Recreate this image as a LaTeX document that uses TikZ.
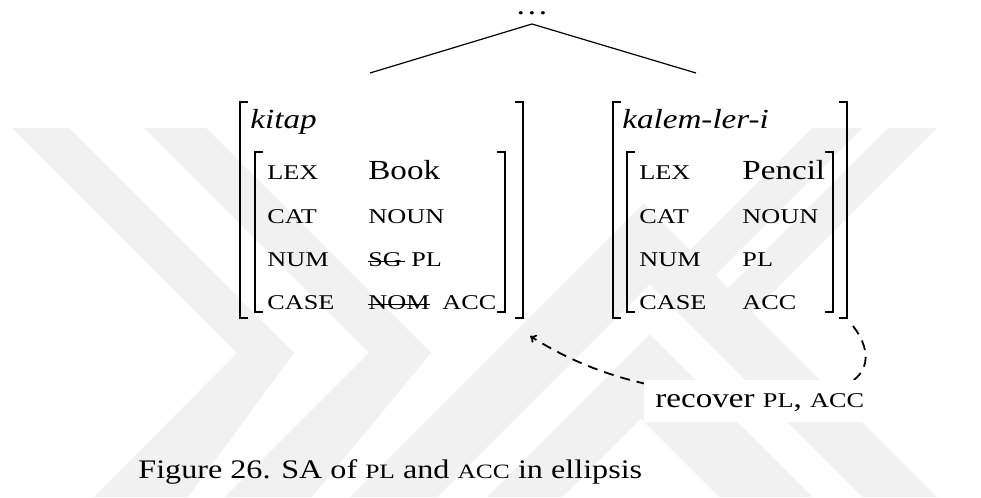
\documentclass[tikz,border=0pt]{standalone}
\usepackage{fontspec}
\setmainfont{Liberation Serif}[FakeStretch=1.2]
\newfontfamily\capsfont{Liberation Serif}[FakeStretch=1.25]
\usetikzlibrary{arrows.meta, positioning, calc}
\definecolor{wmark}{RGB}{241,241,241}
\newcommand{\feat}[1]{{\capsfont\fontsize{10.5pt}{12pt}\selectfont #1}}
\newcommand{\capfeat}[1]{{\capsfont\fontsize{10.2pt}{12pt}\selectfont #1}}
\tikzset{
  lbl/.style    = {anchor=base west, inner sep=0pt, font=\fontsize{13.8pt}{16pt}\selectfont},
  attr/.style   = {lbl, font=\capsfont\fontsize{10.5pt}{12pt}\selectfont},
  brk/.style    = {line width=1.2pt},
  branch/.style = {line width=0.6pt},
  strike/.style = {line width=0.6pt},
  recov/.style  = {line width=0.9pt, dash pattern=on 5pt off 3.5pt,
                   -{To[length=3pt,width=4.5pt]}},
  wm/.style     = {fill=wmark, draw=none},
}

\begin{document}
\begin{tikzpicture}[x=0.5pt, y=-0.5pt]
  \useasboundingbox (0,0) rectangle (981,498);
  % watermark
  \fill[wm] (12,128) -- (69,128) -- (294,353) -- (188,497) -- (94,497) -- (237,353) -- cycle;
  \fill[wm] (144,128) -- (206,128) -- (431,353) -- (312,497) -- (225,497) -- (369,353) -- cycle;
  \fill[wm] (350,497) -- (643.5,203.5) -- (937,497) -- (862,497) -- (649.5,284.5) -- (437,497) -- cycle;
  \fill[wm] (487,497) -- (649.5,334.5) -- (812,497) -- (719,497) -- (640.5,418.5) -- (562,497) -- cycle;
  \fill[wm] (888,128) -- (937,128) -- (737,328) -- (723,293) -- cycle;
  \fill[wm] (812,128) -- (862,128) -- (702,288) -- (682,258) -- cycle;
  % tree top
  \node[lbl, anchor=base] (dots) at (532,15) {\ldots};
  \coordinate (apex) at (532,24);
  \coordinate (kitap-top) at (370,73);
  \coordinate (kalem-top) at (696,73);
  \draw[branch] (kitap-top) -- (apex) -- (kalem-top);
  % brackets
  \foreach \l/\r/\t/\b in {240/523/102/318, 255/505/152/312,
                           613/847/102/318, 627/833/152/312} {
    \draw[brk] (\l+8,\t) -- (\l,\t) -- (\l,\b) -- (\l+8,\b);
    \draw[brk] (\r-8,\t) -- (\r,\t) -- (\r,\b) -- (\r-8,\b);
  }
  % kitap
  \node[lbl] (kitap) at (250,128) {\textit{kitap}};
  \foreach \f/\y in {LEX/179, CAT/223, NUM/266, CASE/309}
    \node[attr] (k-\f) at (267,\y) {\f};
  \node[lbl]  (k-book) at (368,179) {Book};
  \node[attr] (k-noun) at (368,223) {NOUN};
  \node[attr] (k-sg)   at (368,266) {SG};
  \node[attr] (k-pl)   at (411,266) {PL};
  \node[attr] (k-nom)  at (368,309) {NOM};
  \node[attr] (k-acc)  at (442,309) {ACC};
  \draw[strike] ($(k-sg.base west)+(0,-4.5)$) -- ($(k-sg.base east)+(3,-4.5)$);
  \draw[strike] ($(k-nom.base west)+(0,-4.5)$) -- ($(k-nom.base east)+(0,-4.5)$);
  % kalem-ler-i
  \node[lbl] (kalem) at (622,128) {\textit{kalem-ler-i}};
  \foreach \f/\y in {LEX/179, CAT/223, NUM/266, CASE/309}
    \node[attr] (p-\f) at (639,\y) {\f};
  \node[lbl]  (p-pencil) at (742,179) {Pencil};
  \node[attr] (p-noun)   at (742,223) {NOUN};
  \node[attr] (p-pl)     at (742,266) {PL};
  \node[attr] (p-acc)    at (742,309) {ACC};
  % recovery
  \coordinate (kalem-end) at (853,326);
  \coordinate (kitap-end) at (530,336);
  \draw[recov] (kalem-end) .. controls (872,350) and (880,390) .. (800,395)
               .. controls (680,400) and (600,380) .. (kitap-end);
  \node[lbl, fill=white, inner xsep=5.5pt, text height=13.5pt, text depth=7.5pt]
    (recover) at (644,407) {recover \feat{PL}, \feat{ACC}};
  % caption
  \node[lbl, font=\fontsize{13.4pt}{16pt}\selectfont] (caption) at (138,478)
    {Figure 26. SA of \capfeat{PL} and \capfeat{ACC} in ellipsis};
\end{tikzpicture}
\end{document}
